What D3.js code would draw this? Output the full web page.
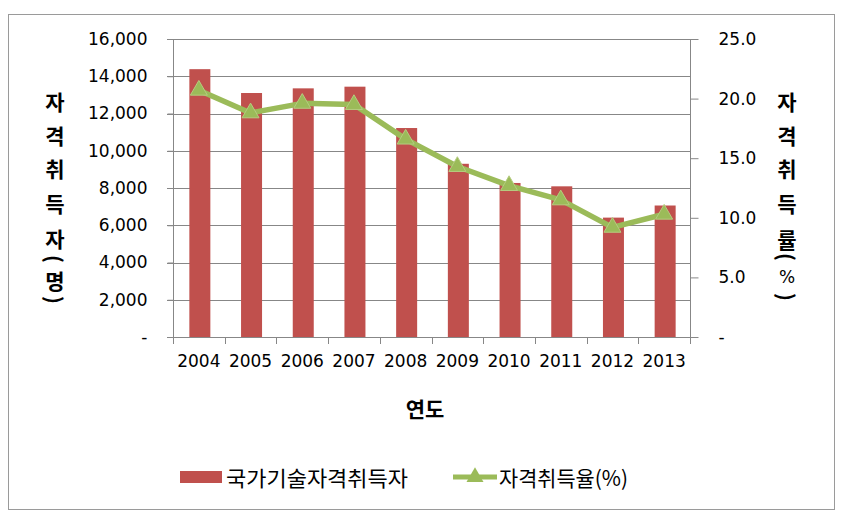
<!DOCTYPE html>
<html><head><meta charset="utf-8">
<script src="https://cdn.jsdelivr.net/npm/d3@7"></script>
<style>
html,body{margin:0;padding:0;background:#fff;}
svg{display:block;}
</style></head>
<body>
<svg id="chart" width="846" height="521"></svg>
<script>
const years = ["2004","2005","2006","2007","2008","2009","2010","2011","2012","2013"];
const holders = [14380, 13100, 13350, 13440, 11220, 9300, 8270, 8090, 6410, 7060];
const rates = [20.7, 18.8, 19.6, 19.5, 16.6, 14.3, 12.7, 11.5, 9.2, 10.3];
const leftTicks = [0, 2000, 4000, 6000, 8000, 10000, 12000, 14000, 16000];
const rightTicks = [0, 5, 10, 15, 20, 25];
const leftTitle = ["자","격","취","득","자","(","명",")"];
const rightTitle = ["자","격","취","득","률","(","%",")"];
const xTitle = "연도";
const legendLabels = ["국가기술자격취득자", "자격취득율(%)"];

const svg = d3.select("#chart");
const KR = "'Noto Sans CJK KR', 'Noto Sans', sans-serif";
const NUM = "'DejaVu Sans', sans-serif";
const barColor = "#C0504D", lineColor = "#9BBB59", gridColor = "#878787";

// outer frame
svg.append("rect").attr("x", 8.5).attr("y", 14.5).attr("width", 826).attr("height", 495)
  .attr("fill", "#fff").attr("stroke", "#9a9a9a").attr("stroke-width", 1);

const L = 173, R = 690, T = 39, B = 337;
const x = d3.scaleBand().domain(years).range([L, R]).paddingInner(0).paddingOuter(0);
const yL = d3.scaleLinear().domain([0, 16000]).range([B, T]);
const yR = d3.scaleLinear().domain([0, 25]).range([B, T]);

// gridlines
svg.append("g").selectAll("line").data(leftTicks).join("line")
  .attr("x1", L - 6).attr("x2", R)
  .attr("y1", d => Math.round(yL(d)) + 0.5).attr("y2", d => Math.round(yL(d)) + 0.5)
  .attr("stroke", gridColor).attr("stroke-width", 1);

// bars
const bw = 21;
svg.append("g").selectAll("rect").data(years).join("rect")
  .attr("x", d => x(d) + x.bandwidth() / 2 - bw / 2 + 1)
  .attr("width", bw)
  .attr("y", (d, i) => yL(holders[i]))
  .attr("height", (d, i) => B - yL(holders[i]))
  .attr("fill", barColor);

// left axis
const fmt = d => d === 0 ? "-" : d3.format(",")(d);
const gL = svg.append("g").attr("transform", `translate(${L + 0.5},0)`)
  .call(d3.axisLeft(yL).tickValues(leftTicks).tickFormat(fmt).tickSize(6).tickPadding(20));
gL.select(".domain").attr("stroke", gridColor).attr("d", `M0,${T}V${B + 7}`);
gL.selectAll(".tick line").attr("stroke", gridColor);
gL.selectAll("text").attr("font-family", NUM).attr("font-size", 17).attr("fill", "#000")
  .attr("x", -26);

// right axis
const gR = svg.append("g").attr("transform", `translate(${R + 0.5},0)`)
  .call(d3.axisRight(yR).tickValues(rightTicks).tickFormat(d => d === 0 ? "-" : d3.format(".1f")(d)).tickSize(8));
gR.select(".domain").attr("stroke", gridColor).attr("d", `M0,${T}V${B + 7}`);
gR.selectAll(".tick line").attr("stroke", gridColor);
gR.selectAll("text").attr("font-family", NUM).attr("font-size", 17).attr("fill", "#000")
  .attr("x", 28);

// bottom axis
const gB = svg.append("g").attr("transform", `translate(0,${B + 0.5})`)
  .call(d3.axisBottom(x).tickSize(0).tickPadding(22));
gB.select(".domain").attr("stroke", gridColor).attr("d", `M${L},0H${R}`);
gB.selectAll("text").attr("font-family", NUM).attr("font-size", 17).attr("fill", "#000").attr("dy", "0.45em");
svg.append("g").selectAll("line").data(years.concat(["end"])).join("line")
  .attr("x1", (d, i) => Math.round(L + i * x.bandwidth()) + 0.5)
  .attr("x2", (d, i) => Math.round(L + i * x.bandwidth()) + 0.5)
  .attr("y1", B).attr("y2", B + 7).attr("stroke", gridColor);

// line series
const line = d3.line().x((d, i) => x(years[i]) + x.bandwidth() / 2).y(d => yR(d));
svg.append("path").datum(rates).attr("d", line).attr("fill", "none")
  .attr("stroke", lineColor).attr("stroke-width", 5.5).attr("stroke-linejoin", "round");
const tri = d3.symbol().type(d3.symbolTriangle).size(125);
svg.append("g").selectAll("path").data(rates).join("path")
  .attr("transform", (d, i) => `translate(${x(years[i]) + x.bandwidth() / 2},${yR(d)})`)
  .attr("d", tri).attr("fill", lineColor).attr("stroke", "#b5cc80").attr("stroke-width", 1);

// axis titles (stacked vertical)
const leftYs = [101, 135, 168, 203, 238, 259, 280, 300];
const rightYs = [101, 135, 168, 203, 239, 257, 277, 297];
function vtitle(chars, ys, cx) {
  const g = svg.append("g");
  chars.forEach((c, i) => {
    const paren = c === "(" || c === ")";
    g.append("text").text(c)
      .attr("x", 0).attr("y", 0)
      .attr("transform", paren ? `translate(${cx},${ys[i]}) rotate(90)` : `translate(${cx},${ys[i]})`)
      .attr("text-anchor", "middle").attr("dominant-baseline", "central")
      .attr("font-family", c === "%" ? NUM : KR)
      .attr("font-weight", c === "%" ? "normal" : "bold")
      .attr("font-size", c === "%" ? 17 : 21).attr("fill", "#000");
  });
}
vtitle(leftTitle, leftYs, 55);
vtitle(rightTitle, rightYs, 787);

svg.append("text").text(xTitle).attr("x", 425).attr("y", 408)
  .attr("text-anchor", "middle").attr("dominant-baseline", "central")
  .attr("font-family", KR).attr("font-weight", "bold").attr("font-size", 21).attr("fill", "#000");

// legend
const lg = svg.append("g");
lg.append("rect").attr("x", 180).attr("y", 471).attr("width", 42).attr("height", 12).attr("fill", barColor);
lg.append("text").text(legendLabels[0]).attr("x", 226).attr("y", 477)
  .attr("dominant-baseline", "central").attr("font-family", KR).attr("font-size", 21).attr("fill", "#000")
  .attr("textLength", 182).attr("lengthAdjust", "spacingAndGlyphs");
lg.append("line").attr("x1", 453).attr("x2", 497).attr("y1", 477).attr("y2", 477)
  .attr("stroke", lineColor).attr("stroke-width", 5);
lg.append("path").attr("transform", "translate(475,477)").attr("d", tri).attr("fill", lineColor);
lg.append("text").text(legendLabels[1]).attr("x", 499).attr("y", 477)
  .attr("dominant-baseline", "central").attr("font-family", KR).attr("font-size", 21).attr("fill", "#000")
  .attr("textLength", 129).attr("lengthAdjust", "spacingAndGlyphs");
</script>
</body></html>
